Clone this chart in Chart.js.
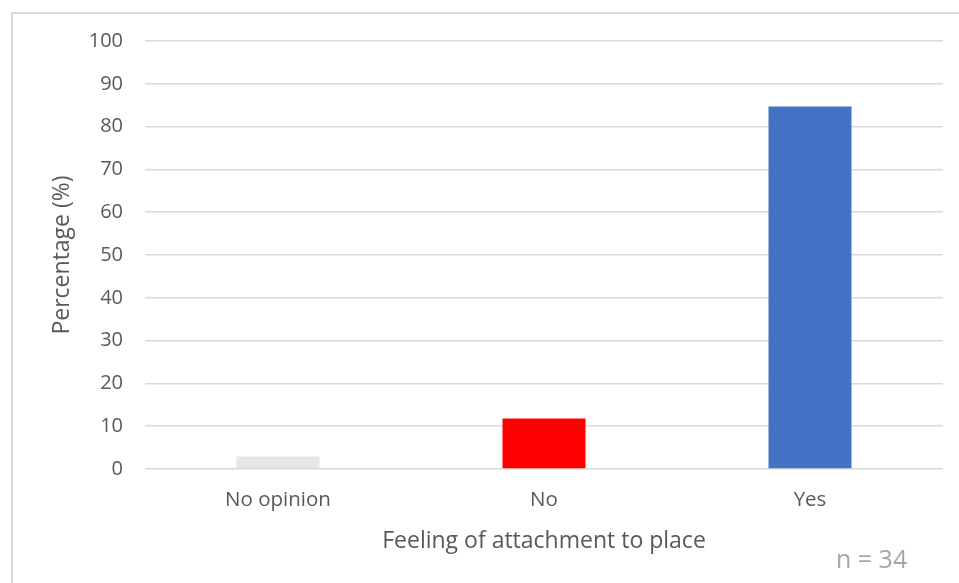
<!DOCTYPE html>
<html>
<head>
<meta charset="utf-8">
<script src="https://cdn.jsdelivr.net/npm/chart.js@4/dist/chart.umd.min.js"></script>
<style>
    html, body { margin: 0; padding: 0; background: #fff; }
    #wrap { position: relative; width: 959px; height: 583px; }
    #frame { position: absolute; left: 11px; top: 12px; right: -5px; bottom: -5px; border: 2px solid #d9d9d9; }
    #note { position: absolute; left: 836px; top: 541px; font: 25px "Open Sans", sans-serif; color: #a6a6a6; }
    canvas { position: absolute; left: 0; top: 0; }
</style>
</head>
<body>
<div id="wrap">
    <div id="frame"></div>
    <canvas id="chart" width="959" height="583"></canvas>
    <div id="note">n = 34</div>
</div>
<script>
    // data
    var categories = ["No opinion", "No", "Yes"];
    var percentages = [2.9, 11.8, 84.7];
    var barColors = ["#e7e6e6", "#ff0000", "#4472c4"];
    var yTicks = [0, 10, 20, 30, 40, 50, 60, 70, 80, 90, 100];

    var textColor = "#595959", gridColor = "#d9d9d9", fam = "'Open Sans', sans-serif";

    new Chart(document.getElementById("chart").getContext("2d"), {
        type: "bar",
        data: {
            labels: categories,
            datasets: [{
                label: "Percentage",
                data: percentages,
                backgroundColor: barColors,
                borderWidth: 0,
                categoryPercentage: 1,
                barPercentage: 0.312
            }]
        },
        options: {
            responsive: false,
            animation: false,
            devicePixelRatio: 1,
            layout: {padding: {left: 0, right: 16, top: 41, bottom: 0}},
            plugins: {legend: {display: false}, tooltip: {enabled: false}},
            scales: {
                x: {
                    grid: {display: false, drawTicks: false},
                    border: {display: false},
                    ticks: {color: textColor, font: {family: fam, size: 20.5}, padding: 19},
                    title: {
                        display: true, text: "Feeling of attachment to place",
                        color: textColor, font: {family: fam, size: 23}, padding: {top: 0, bottom: 28}
                    },
                    afterFit: function (s) { s.height = 114; }
                },
                y: {
                    min: 0, max: 100,
                    afterBuildTicks: function (s) { s.ticks = yTicks.map(function (v) { return {value: v}; }); },
                    grid: {color: gridColor, lineWidth: 1.5, drawTicks: false},
                    border: {display: false},
                    ticks: {color: textColor, font: {family: fam, size: 20}, padding: 22},
                    title: {
                        display: true, text: "Percentage (%)",
                        color: textColor, font: {family: fam, size: 23}, padding: {top: 49, bottom: 0}
                    },
                    afterFit: function (s) { s.width = 145; }
                }
            }
        }
    });
</script>
</body>
</html>
